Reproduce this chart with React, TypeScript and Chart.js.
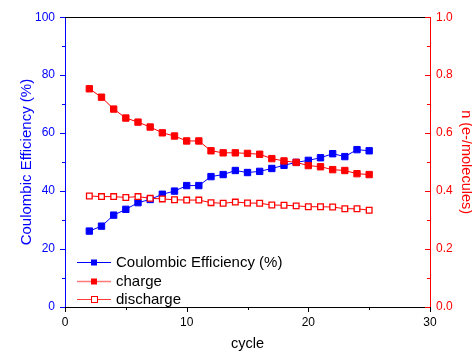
import React, { useEffect, useRef } from 'react';
import { Chart, registerables } from 'chart.js';

Chart.register(...registerables);

const cycles = [2, 3, 4, 5, 6, 7, 8, 9, 10, 11, 12, 13, 14, 15, 16, 17, 18, 19, 20, 21, 22, 23, 24, 25];
const coulombicEfficiency = [26.2, 27.9, 31.7, 33.7, 36.0, 37.1, 38.9, 40.0, 41.9, 41.9, 45.0, 45.7, 47.1, 46.4, 46.8, 47.8, 48.9, 49.9, 50.6, 51.5, 52.9, 51.9, 54.3, 53.9];
const charge = [0.753, 0.724, 0.683, 0.652, 0.638, 0.621, 0.601, 0.590, 0.573, 0.573, 0.539, 0.532, 0.532, 0.530, 0.527, 0.512, 0.504, 0.499, 0.488, 0.484, 0.474, 0.471, 0.460, 0.457];
const discharge = [0.383, 0.381, 0.381, 0.378, 0.381, 0.375, 0.373, 0.370, 0.369, 0.369, 0.360, 0.358, 0.362, 0.359, 0.358, 0.352, 0.351, 0.349, 0.346, 0.346, 0.345, 0.339, 0.339, 0.334];

const xMajorTicks = [0, 10, 20, 30];
const xMinorTicks = [5, 15, 25];
const yMajorTicks = [0, 20, 40, 60, 80, 100];
const yMinorTicks = [10, 30, 50, 70, 90];
const y1MajorTicks = [0, 0.2, 0.4, 0.6, 0.8, 1.0];
const y1MinorTicks = [0.1, 0.3, 0.5, 0.7, 0.9];

const legendLabels = ['Coulombic Efficiency (%)', 'charge', 'discharge'];

const BLUE = '#0000ff';
const RED = '#ff0000';
const FONT = "'Liberation Sans', Arial, sans-serif";

const tickPlugin = {
  id: 'customTicks',
  afterDraw(chart: any) {
    const { ctx, chartArea, scales } = chart;
    const { left, right, top, bottom } = chartArea;
    ctx.save();
    ctx.lineWidth = 1;
    // top border
    ctx.strokeStyle = '#000';
    ctx.beginPath();
    ctx.moveTo(left, Math.round(top) + 0.5);
    ctx.lineTo(right, Math.round(top) + 0.5);
    ctx.stroke();
    // x ticks
    const drawX = (vals: number[], len: number) => {
      vals.forEach((v) => {
        const px = Math.round(scales.x.getPixelForValue(v)) + 0.5;
        ctx.beginPath();
        ctx.moveTo(px, bottom);
        ctx.lineTo(px, bottom + len);
        ctx.stroke();
      });
    };
    ctx.strokeStyle = '#000';
    drawX(xMajorTicks, 5);
    drawX(xMinorTicks, 3);
    // y ticks (outward, left)
    const drawY = (scale: any, vals: number[], len: number, x0: number, dir: number) => {
      vals.forEach((v) => {
        const py = Math.round(scale.getPixelForValue(v)) + 0.5;
        ctx.beginPath();
        ctx.moveTo(x0, py);
        ctx.lineTo(x0 + dir * len, py);
        ctx.stroke();
      });
    };
    ctx.strokeStyle = BLUE;
    drawY(scales.y, yMajorTicks, 5, left, -1);
    drawY(scales.y, yMinorTicks, 3, left, -1);
    ctx.strokeStyle = RED;
    drawY(scales.y1, y1MajorTicks, 5, right, -1);
    drawY(scales.y1, y1MinorTicks, 3, right, -1);

    // legend
    const rows = [262, 280.5, 299];
    const lx0 = 77, lx1 = 111, mx = 94, tx = 116;
    const lineColors = [BLUE, '#ff7a7a', '#ff3a3a'];
    rows.forEach((ry, i) => {
      ctx.strokeStyle = lineColors[i];
      ctx.lineWidth = i === 1 ? 1.5 : 1;
      ctx.beginPath();
      ctx.moveTo(lx0, Math.round(ry) + 0.5);
      ctx.lineTo(lx1, Math.round(ry) + 0.5);
      ctx.stroke();
      const cy = Math.round(ry) + 0.5;
      if (i === 0) {
        ctx.fillStyle = BLUE;
        ctx.fillRect(mx - 3, cy - 3, 6, 6);
      } else if (i === 1) {
        ctx.fillStyle = RED;
        ctx.fillRect(mx - 3, cy - 3, 6, 6);
      } else {
        ctx.fillStyle = '#fff';
        ctx.fillRect(mx - 3, cy - 3, 6, 6);
        ctx.strokeStyle = RED;
        ctx.lineWidth = 1;
        ctx.strokeRect(mx - 2.5, cy - 3, 6, 6);
      }
      ctx.fillStyle = '#000';
      ctx.font = `15px ${FONT}`;
      ctx.textBaseline = 'middle';
      ctx.textAlign = 'left';
      ctx.fillText(legendLabels[i], tx, ry + 1);
    });
    ctx.restore();
  },
};

export default function App() {
  const ref = useRef<HTMLCanvasElement | null>(null);
  useEffect(() => {
    if (!ref.current) return;
    const chart = new Chart(ref.current, {
      type: 'line',
      data: {
        datasets: [
          {
            label: legendLabels[0],
            data: cycles.map((c, i) => ({ x: c, y: coulombicEfficiency[i] })),
            borderColor: BLUE,
            backgroundColor: BLUE,
            borderWidth: 1,
            pointStyle: 'rect',
            pointRadius: 4.5,
            pointBorderWidth: 1,
            yAxisID: 'y',
            order: 3,
          },
          {
            label: legendLabels[1],
            data: cycles.map((c, i) => ({ x: c, y: charge[i] })),
            borderColor: RED,
            backgroundColor: RED,
            borderWidth: 1,
            pointStyle: 'rect',
            pointRadius: 4.5,
            pointBorderWidth: 1,
            yAxisID: 'y1',
            order: 2,
          },
          {
            label: legendLabels[2],
            data: cycles.map((c, i) => ({ x: c, y: discharge[i] })),
            borderColor: RED,
            backgroundColor: '#ffffff',
            borderWidth: 1,
            pointStyle: 'rect',
            pointRadius: 4,
            pointBorderWidth: 1.3,
            yAxisID: 'y1',
            order: 1,
          },
        ],
      },
      options: {
        animation: false,
        responsive: false,
        layout: { padding: { top: 15, left: 0, right: 0, bottom: 0 } },
        plugins: { legend: { display: false }, tooltip: { enabled: false } },
        scales: {
          x: {
            type: 'linear',
            min: 0,
            max: 30,
            grid: { display: false, drawTicks: false },
            border: { display: true, color: '#000', width: 1 },
            ticks: { stepSize: 10, color: '#000', font: { family: FONT, size: 12 }, padding: 8 },
            title: { display: true, text: 'cycle', color: '#000', font: { family: FONT, size: 14.5 }, padding: { top: 0, bottom: 0 } },
            afterFit: (s: any) => { s.height = 46; },
          },
          y: {
            type: 'linear',
            position: 'left',
            min: 0,
            max: 100,
            grid: { display: false, drawTicks: false },
            border: { display: true, color: BLUE, width: 1 },
            ticks: { stepSize: 20, color: BLUE, font: { family: FONT, size: 12 }, padding: 10 },
            title: { display: true, text: 'Coulombic Efficiency (%)', color: BLUE, font: { family: FONT, size: 15 }, padding: { top: 18, bottom: 0 } },
            afterFit: (s: any) => { s.width = 65; },
          },
          y1: {
            type: 'linear',
            position: 'right',
            min: 0,
            max: 1,
            grid: { display: false, drawTicks: false },
            border: { display: true, color: RED, width: 1 },
            ticks: { stepSize: 0.2, color: RED, font: { family: FONT, size: 12 }, padding: 6, callback: (v: any) => Number(v).toFixed(1) },
            title: { display: true, text: 'n (e-/molecules)', color: RED, font: { family: FONT, size: 14.5, lineHeight: 0.8 }, padding: { top: 0, bottom: 0 } },
            afterFit: (s: any) => { s.width = 42; },
          },
        },
      },
      plugins: [tickPlugin],
    });
    return () => chart.destroy();
  }, []);
  return (
    <div style={{ position: 'absolute', left: 0, top: 0, width: 472, height: 353 }}>
      <canvas ref={ref} width={472} height={353} style={{ display: 'block' }} />
    </div>
  );
}
